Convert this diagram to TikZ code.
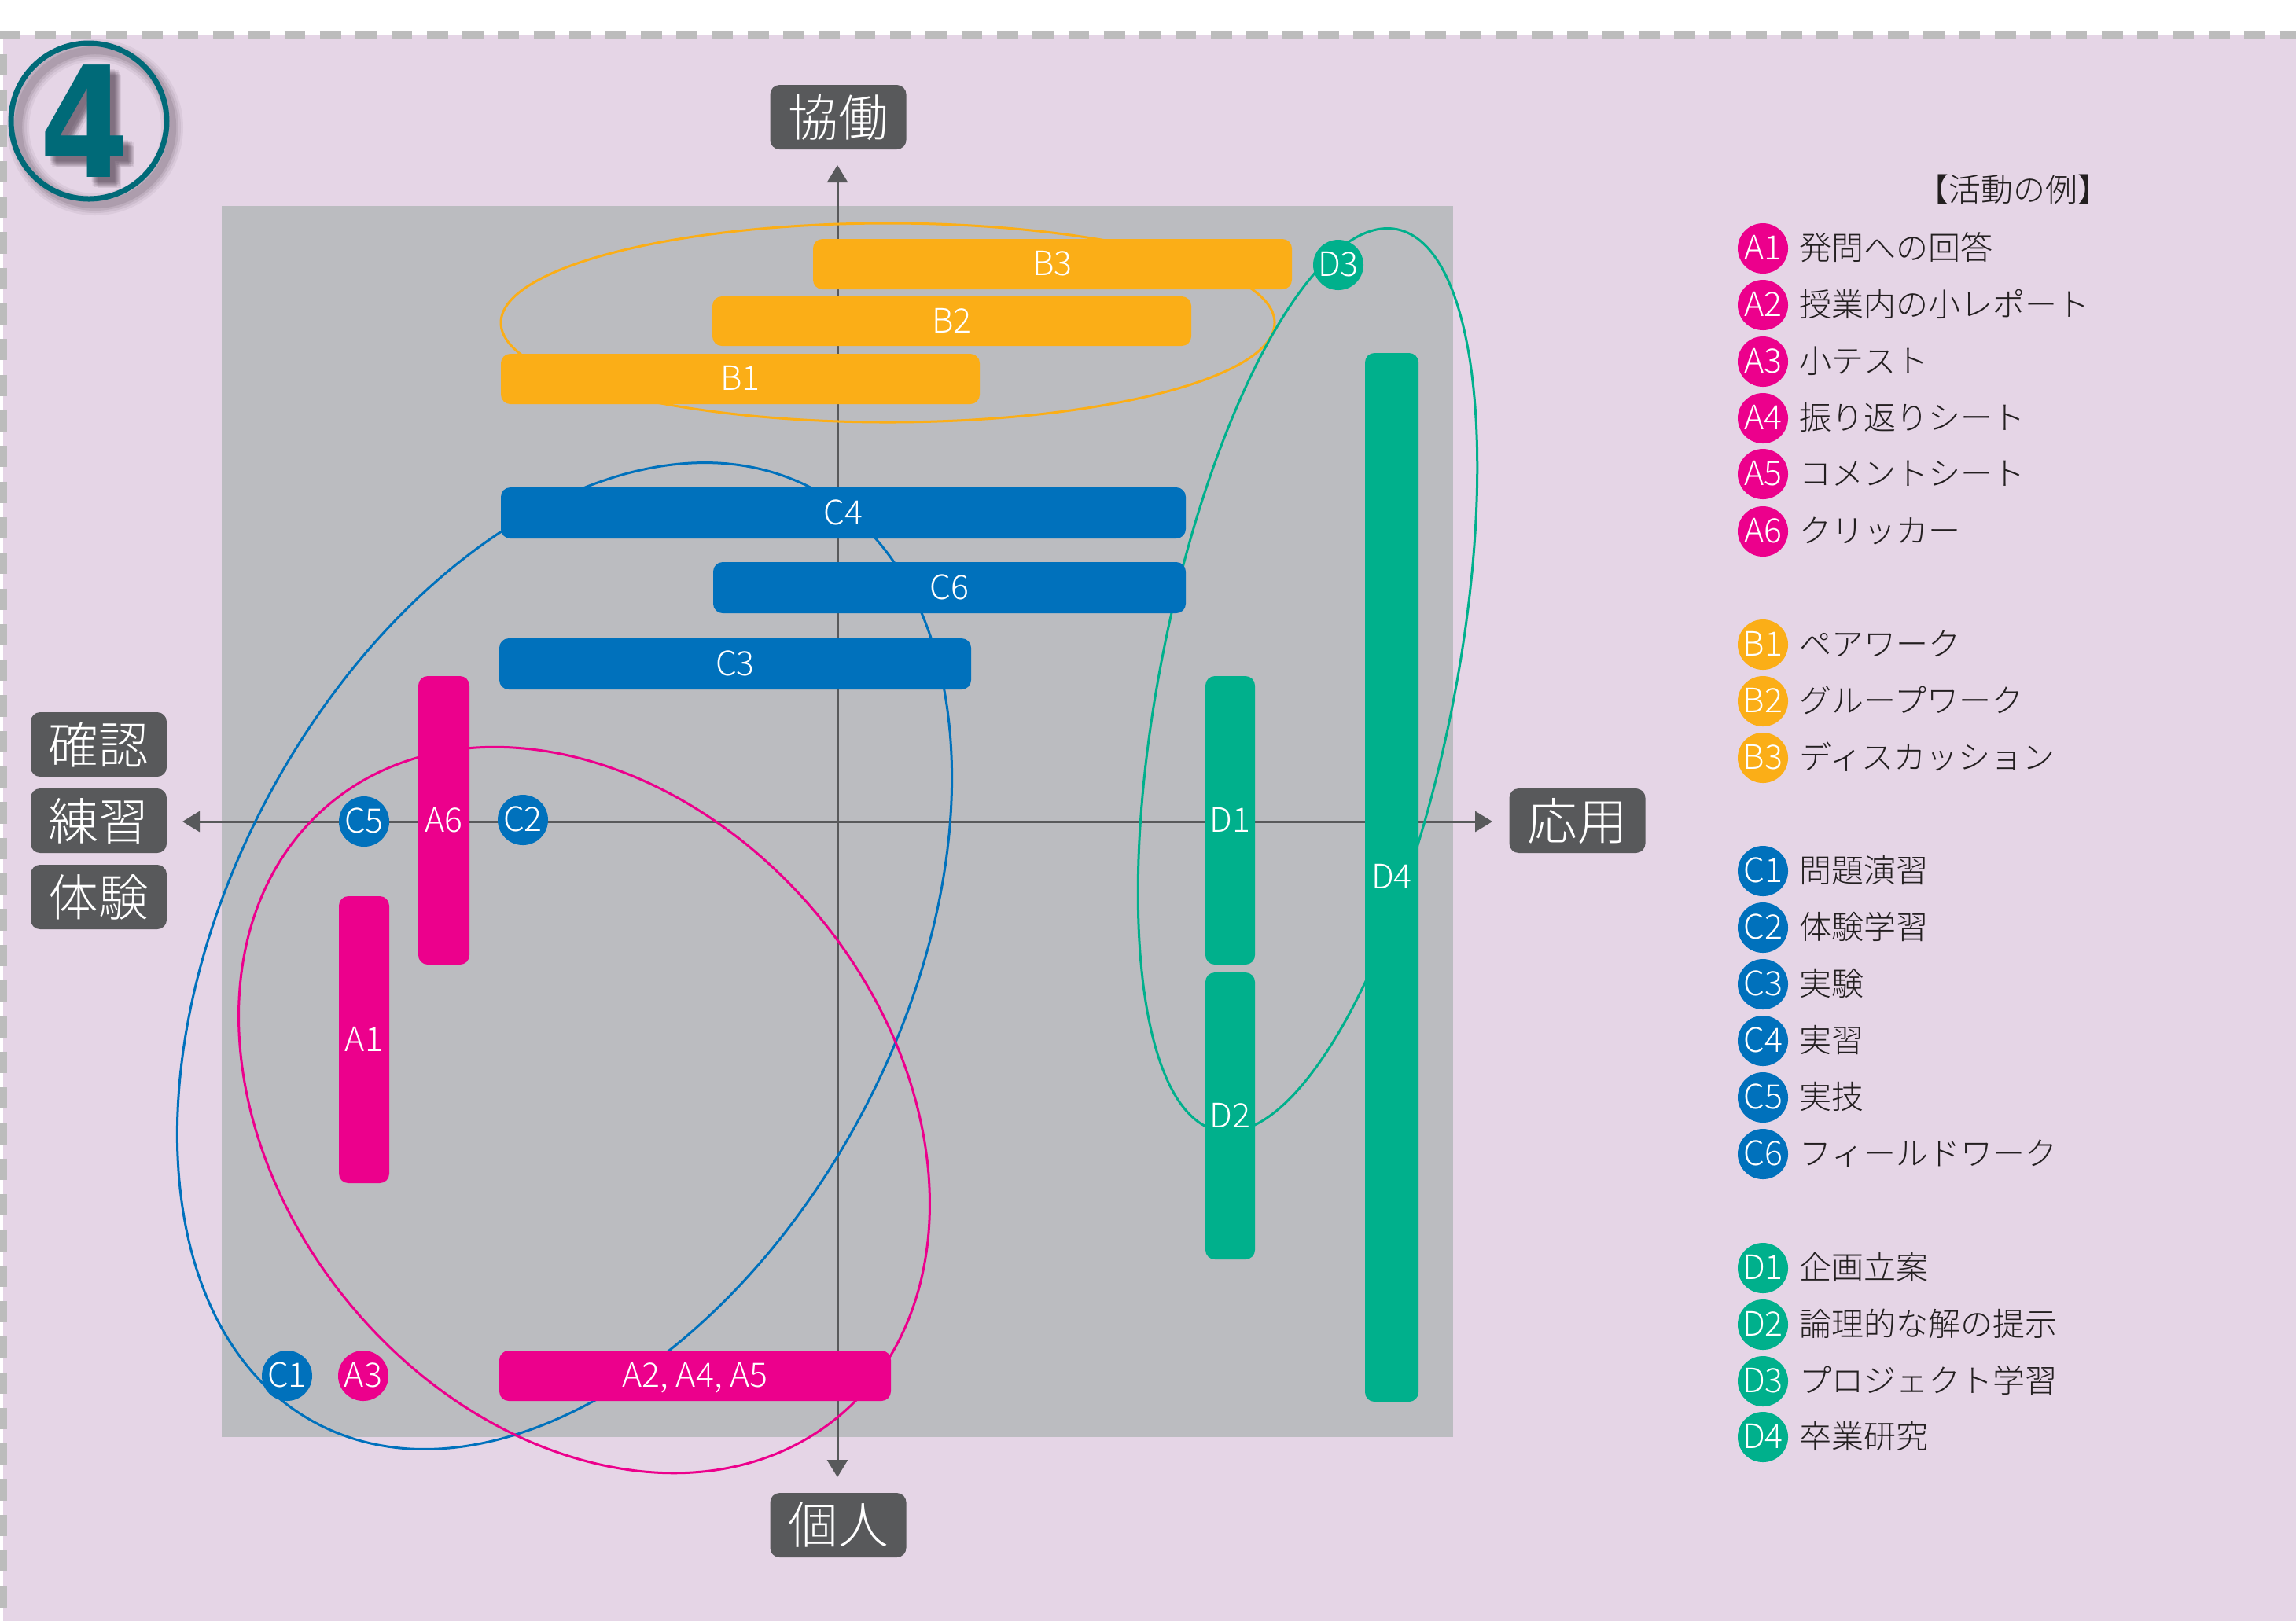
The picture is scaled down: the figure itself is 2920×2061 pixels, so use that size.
\documentclass[tikz,border=0pt]{standalone}
\usepackage{fontspec}
\usepackage{graphicx}
\setmainfont{Noto Sans CJK JP Light}
\newfontfamily\heavyfont{DejaVu Sans Bold}
\usetikzlibrary{arrows.meta}
\definecolor{bgpink}{HTML}{E5D5E6}
\definecolor{sqgray}{HTML}{BBBCC0}
\definecolor{dashgray}{HTML}{BCBCBC}
\definecolor{mag}{HTML}{EC008C}
\definecolor{org}{HTML}{FBAE17}
\definecolor{blu}{HTML}{0071BC}
\definecolor{grn}{HTML}{00B08C}
\definecolor{dark}{HTML}{58595B}
\definecolor{teal2}{HTML}{006A78}
\definecolor{txt}{HTML}{231F20}
\definecolor{shad}{HTML}{3A2A3A}
\newcommand{\fourglyph}{\scalebox{0.84}[1]{4}}
\tikzset{
  barbox/.style={rounded corners=3pt,inner sep=0pt,text=white,font=\fontsize{10.7}{12}\selectfont,text height=8pt,text depth=0.7pt},
  badge/.style={circle,minimum size=16pt,inner sep=0pt,text=white,font=\fontsize{10.7}{12}\selectfont,text height=8pt,text depth=0.7pt},
  axislabel/.style={fill=dark,rounded corners=3pt,minimum width=43.25pt,minimum height=20.5pt,inner sep=0pt,text=white,font=\fontsize{15.9}{18}\selectfont},
  axisline/.style={draw=dark,line width=0.75pt,-{Triangle[length=5.5pt,width=6.5pt]}},
  loop1/.style={line width=0.75pt},
  legendtext/.style={anchor=west,inner sep=0pt,text=txt,font=\fontsize{10.25}{12}\selectfont,text height=8.6pt,text depth=1.4pt},
  shadowfour/.style={text=shad,text opacity=0.09,inner sep=0pt,font=\heavyfont\fontsize{49}{50}\selectfont}
}
\newcommand{\barn}[7]{%
  \pgfmathsetmacro\cx{(#2+#4)/2}\pgfmathsetmacro\cy{(#3+#5)/2}%
  \pgfmathsetmacro\bw{(#4-#2)*0.25}\pgfmathsetmacro\bh{(#5-#3)*0.25}%
  \node[barbox,fill=#6,minimum width=\bw pt,minimum height=\bh pt] (#1) at (\cx,\cy) {#7};}
\begin{document}
\begin{tikzpicture}[x=0.25pt,y=-0.25pt]
\useasboundingbox (0,0) rectangle (2920,2061);
\fill[white] (0,0) rectangle (2920,2061);
\fill[bgpink] (4,45) rectangle (2940,2080);
\draw[dashgray,line width=2.5pt,dash pattern=on 6.7pt off 4.63pt] (-1,45) -- (2930,45);
\draw[dashgray,line width=2.5pt,dash pattern=on 6.8pt off 4.53pt] (4,68.7) -- (4,2070);
% badge 4
\foreach \w/\o in {7/0.06,5.5/0.08,4/0.10,2.6/0.12}{
  \draw[shad,opacity=\o,line width=\w pt] (121,162) circle (98);
}
\foreach \dx/\dy [count=\i] in {6/6,8/8,10/10,12/12,14/14,9/13,13/9,7/11,11/7}{
  \node[shadowfour,name=s\i] at (108+\dx,154+\dy) {\fourglyph};
}
\draw[teal2,line width=1.75pt] (113,154) circle (99);
\node[inner sep=0pt,text=teal2,font=\heavyfont\fontsize{49}{50}\selectfont] (four) at (108,154) {\fourglyph};
% plot square
\fill[sqgray] (282,262) rectangle (1848,1828);
% axes
\coordinate (wE) at (232,1045); \coordinate (eE) at (1898,1045);
\coordinate (nE) at (1065,210); \coordinate (sE) at (1065,1879);
\draw[axisline] (1065,1045) -- (wE);
\draw[axisline] (1065,1045) -- (eE);
\draw[axisline] (1065,1045) -- (nE);
\draw[axisline] (1065,1045) -- (sE);
\node[axislabel] (top) at (1066,149) {協働};
\node[axislabel] (bot) at (1066,1940) {個人};
\node[axislabel] (right) at (2006,1044) {応用};
\node[axislabel] (l1) at (125.5,947) {確認};
\node[axislabel] (l2) at (125.5,1044) {練習};
\node[axislabel] (l3) at (125.5,1141) {体験};
% ellipses
\draw[org,loop1] (1129,410.5) ellipse (492 and 126.5);
\draw[blu,loop1,rotate around={62:(718,1216)}] (718,1216) ellipse (673 and 428);
\draw[mag,loop1,rotate around={-50.4:(743,1412)}] (743,1412) ellipse (506.5 and 387);
\draw[grn,loop1,rotate around={78.8:(1663,865)}] (1663,865) ellipse (584.5 and 187);
% bars
\barn{B3}{1034}{304}{1643}{368}{org}{B3}
\barn{B2}{906}{377}{1515}{440}{org}{B2}
\barn{B1}{637}{450}{1246}{514}{org}{B1}
\barn{C4}{637}{620}{1508}{685}{blu}{C4}
\barn{C6}{907}{715}{1508}{780}{blu}{C6}
\barn{C3}{635}{812}{1235}{877}{blu}{C3}
\barn{A6}{532}{860}{597}{1227}{mag}{A6}
\barn{A1}{431}{1140}{495}{1505}{mag}{A1}
\barn{A245}{635}{1718}{1133}{1782}{mag}{A2, A4, A5}
\barn{D1}{1533}{860}{1596}{1227}{grn}{D1}
\barn{D2}{1533}{1237}{1596}{1602}{grn}{D2}
\barn{D4}{1736}{449}{1804}{1783}{grn}{D4}
% badges
\node[badge,fill=blu] (C5) at (463,1045) {C5};
\node[badge,fill=blu] (C2) at (665,1043) {C2};
\node[badge,fill=blu] (C1) at (365,1750) {C1};
\node[badge,fill=mag] (A3) at (462,1750) {A3};
\node[badge,fill=grn] (D3) at (1702,337) {D3};
% legend
\node[legendtext,anchor=center] (legtitle) at (2560,242) {【活動の例】};
\foreach \n/\c/\y/\t in {%
 A1/mag/316/発問への回答,A2/mag/388/授業内の小レポート,A3/mag/460/小テスト,A4/mag/532/振り返りシート,A5/mag/603/コメントシート,A6/mag/676/クリッカー,
 B1/org/820/ペアワーク,B2/org/892/グループワーク,B3/org/964/ディスカッション,
 C1/blu/1108/問題演習,C2/blu/1180/体験学習,C3/blu/1252/実験,C4/blu/1324/実習,C5/blu/1396/実技,C6/blu/1468/フィールドワーク,
 D1/grn/1613/企画立案,D2/grn/1685/論理的な解の提示,D3/grn/1757/プロジェクト学習,D4/grn/1828/卒業研究}{
  \node[badge,fill=\c] (L\n) at (2242,\y) {\n};
  \node[legendtext] (T\n) at (2288,\y) {\t};
}
\end{tikzpicture}
\end{document}
